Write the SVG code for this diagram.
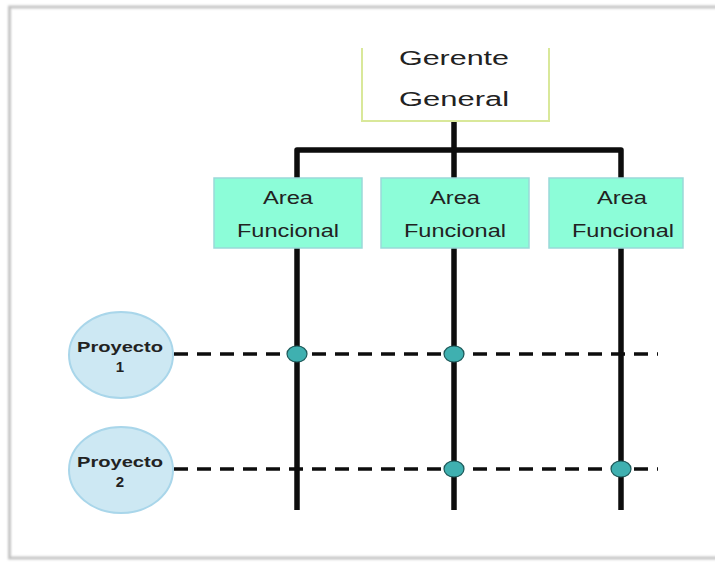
<svg xmlns="http://www.w3.org/2000/svg" width="715" height="564" viewBox="0 0 715 564">
  <defs>
    <filter id="soft" x="-5%" y="-5%" width="110%" height="110%">
      <feGaussianBlur stdDeviation="0.8"/>
    </filter>
    <style>
      .frame { fill: none; stroke: #c4c4c4; stroke-width: 3; }
      .head { fill: #ffffff; stroke: #d9e89a; stroke-width: 2; }
      .area { fill: #8cfdd8; stroke: #9ad9d9; stroke-width: 1.5; }
      .proj { fill: #cde8f3; stroke: #a9d6ea; stroke-width: 2; }
      .line { fill: none; stroke: #0d0d0d; stroke-width: 5.5; stroke-linejoin: round; }
      .dash { fill: none; stroke: #0d0d0d; stroke-width: 3.5; stroke-dasharray: 14 9; }
      .dot { fill: #3fb0b0; stroke: #1e5a5a; stroke-width: 1.2; }
      .t-head { font-family: "Liberation Sans", Arial, sans-serif; font-size: 20px; fill: #222; text-anchor: middle; }
      .t-area { font-family: "Liberation Sans", Arial, sans-serif; font-size: 17.5px; fill: #222; text-anchor: middle; }
      .t-proj { font-family: "Liberation Sans", Arial, sans-serif; font-size: 15px; font-weight: bold; fill: #222; text-anchor: middle; }
    </style>
  </defs>

  <rect x="0" y="0" width="715" height="564" fill="#ffffff"/>
  <!-- page frame -->
  <path class="frame" d="M720 7 H9.5 V558 H720" filter="url(#soft)"/>

  <!-- connectors -->
  <g id="connectors">
    <path class="line" d="M454 121 V510"/>
    <path class="line" d="M297 178 V150 H621 V178"/>
    <path class="line" d="M297 248 V510"/>
    <path class="line" d="M621 248 V510"/>
    <path class="dash" d="M174 354 H658"/>
    <path class="dash" d="M174 469 H658"/>
    <ellipse class="dot" cx="297" cy="354" rx="10" ry="8"/>
    <ellipse class="dot" cx="454" cy="354" rx="10" ry="8"/>
    <ellipse class="dot" cx="454" cy="469" rx="10" ry="8"/>
    <ellipse class="dot" cx="621" cy="469" rx="10" ry="8"/>
  </g>

  <g id="gerente">
    <path class="head" d="M362 48 V121 H549 V48"/>
    <text class="t-head" x="454" y="65" textLength="110" lengthAdjust="spacingAndGlyphs">Gerente</text>
    <text class="t-head" x="454" y="106" textLength="110" lengthAdjust="spacingAndGlyphs">General</text>
  </g>

  <g id="area1">
    <rect class="area" x="214" y="178" width="148" height="70"/>
    <text class="t-area" x="288" y="204" textLength="50" lengthAdjust="spacingAndGlyphs">Area</text>
    <text class="t-area" x="288" y="237" textLength="102" lengthAdjust="spacingAndGlyphs">Funcional</text>
  </g>
  <g id="area2">
    <rect class="area" x="381" y="178" width="148" height="70"/>
    <text class="t-area" x="455" y="204" textLength="50" lengthAdjust="spacingAndGlyphs">Area</text>
    <text class="t-area" x="455" y="237" textLength="102" lengthAdjust="spacingAndGlyphs">Funcional</text>
  </g>
  <g id="area3">
    <rect class="area" x="549" y="178" width="134" height="70"/>
    <text class="t-area" x="622" y="204" textLength="50" lengthAdjust="spacingAndGlyphs">Area</text>
    <text class="t-area" x="623" y="237" textLength="102" lengthAdjust="spacingAndGlyphs">Funcional</text>
  </g>

  <g id="proyecto1">
    <ellipse class="proj" cx="121" cy="355" rx="52" ry="43"/>
    <text class="t-proj" x="120" y="352" textLength="86" lengthAdjust="spacingAndGlyphs">Proyecto</text>
    <text class="t-proj" x="120" y="372">1</text>
  </g>
  <g id="proyecto2">
    <ellipse class="proj" cx="121" cy="470" rx="52" ry="43"/>
    <text class="t-proj" x="120" y="467" textLength="86" lengthAdjust="spacingAndGlyphs">Proyecto</text>
    <text class="t-proj" x="120" y="487">2</text>
  </g>
</svg>
